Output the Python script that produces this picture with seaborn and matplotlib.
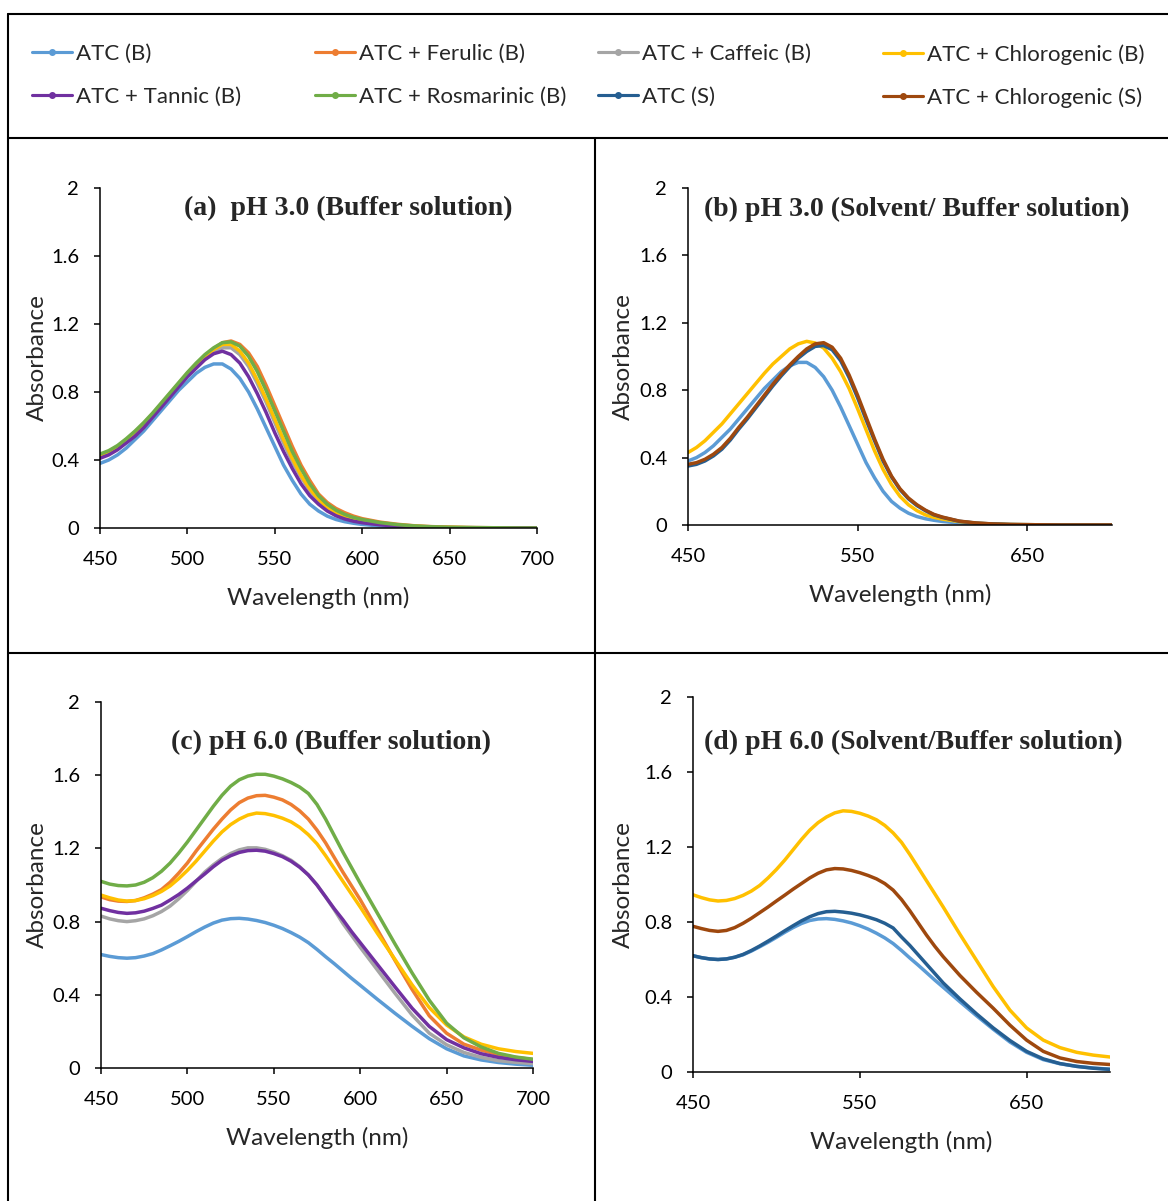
import numpy as np
import pandas as pd
import seaborn as sns
import matplotlib.pyplot as plt
from matplotlib.lines import Line2D

sns.set_theme(style="ticks")
plt.rcParams['font.family'] = ['Lato', 'DejaVu Sans']

# wavelength grid (nm): 5 nm steps to 600, then 10 nm steps
wavelength = [450, 455, 460, 465, 470, 475, 480, 485, 490, 495,
              500, 505, 510, 515, 520, 525, 530, 535, 540, 545,
              550, 555, 560, 565, 570, 575, 580, 585, 590, 595,
              600, 610, 620, 630, 640, 650, 660, 670, 680, 690, 700]

# ---- pH 3.0 buffer (panel a) ----
ph3_atc_b = [0.38, 0.40, 0.43, 0.47, 0.52, 0.57, 0.63, 0.69, 0.75, 0.81,
             0.86, 0.91, 0.945, 0.965, 0.965, 0.935, 0.88, 0.80, 0.70, 0.59,
             0.48, 0.37, 0.28, 0.20, 0.14, 0.10, 0.07, 0.05, 0.037, 0.028,
             0.021, 0.012, 0.007, 0.004, 0.002, 0.001, 0, 0, 0, 0, 0]
ph3_ferulic = [0.425, 0.445, 0.475, 0.515, 0.56, 0.61, 0.665, 0.725, 0.785, 0.845,
               0.905, 0.96, 1.01, 1.055, 1.09, 1.10, 1.08, 1.03, 0.95, 0.84,
               0.72, 0.60, 0.48, 0.37, 0.28, 0.20, 0.15, 0.115, 0.09, 0.07,
               0.055, 0.035, 0.022, 0.013, 0.008, 0.005, 0.003, 0.002, 0.001, 0, 0]
ph3_caffeic = [0.42, 0.44, 0.47, 0.51, 0.555, 0.605, 0.66, 0.72, 0.78, 0.84,
               0.895, 0.95, 0.995, 1.035, 1.06, 1.06, 1.02, 0.95, 0.85, 0.74,
               0.62, 0.50, 0.39, 0.30, 0.22, 0.16, 0.115, 0.085, 0.063, 0.048,
               0.038, 0.024, 0.015, 0.009, 0.005, 0.003, 0.002, 0.001, 0, 0, 0]
ph3_chloro_b = [0.43, 0.45, 0.48, 0.52, 0.565, 0.615, 0.67, 0.73, 0.79, 0.85,
                0.91, 0.965, 1.01, 1.05, 1.08, 1.08, 1.04, 0.97, 0.87, 0.76,
                0.64, 0.52, 0.41, 0.31, 0.23, 0.17, 0.12, 0.09, 0.068, 0.052,
                0.042, 0.027, 0.017, 0.01, 0.006, 0.004, 0.002, 0.001, 0, 0, 0]
ph3_tannic = [0.41, 0.43, 0.46, 0.50, 0.54, 0.59, 0.65, 0.71, 0.77, 0.83,
              0.89, 0.94, 0.99, 1.025, 1.04, 1.02, 0.97, 0.89, 0.79, 0.68,
              0.56, 0.45, 0.35, 0.26, 0.19, 0.14, 0.10, 0.072, 0.053, 0.04,
              0.031, 0.019, 0.011, 0.006, 0.003, 0.002, 0.001, 0, 0, 0, 0]
ph3_rosmarinic = [0.435, 0.455, 0.485, 0.525, 0.57, 0.62, 0.675, 0.735, 0.795, 0.855,
                  0.915, 0.97, 1.02, 1.06, 1.09, 1.095, 1.07, 1.01, 0.92, 0.81,
                  0.69, 0.57, 0.45, 0.35, 0.26, 0.19, 0.14, 0.105, 0.08, 0.062,
                  0.05, 0.032, 0.02, 0.012, 0.007, 0.004, 0.003, 0.002, 0.001, 0, 0]

# ---- pH 3.0 solvent/buffer (panel b) ----
ph3s_chloro_b = [0.43, 0.46, 0.50, 0.55, 0.60, 0.66, 0.72, 0.78, 0.84, 0.90,
                 0.955, 1.00, 1.045, 1.075, 1.09, 1.08, 1.05, 0.99, 0.91, 0.81,
                 0.69, 0.565, 0.44, 0.33, 0.24, 0.17, 0.12, 0.085, 0.06, 0.045,
                 0.035, 0.02, 0.01, 0.006, 0.003, 0.002, 0.001, 0, 0, 0, 0]
ph3s_atc_s = [0.35, 0.36, 0.38, 0.41, 0.45, 0.505, 0.57, 0.63, 0.695, 0.76,
              0.825, 0.885, 0.94, 0.99, 1.03, 1.06, 1.065, 1.04, 0.975, 0.875,
              0.755, 0.625, 0.50, 0.38, 0.285, 0.21, 0.155, 0.115, 0.085, 0.06,
              0.045, 0.022, 0.011, 0.006, 0.003, 0.002, 0.001, 0, 0, 0, 0]
ph3s_chloro_s = [0.36, 0.37, 0.39, 0.42, 0.46, 0.515, 0.58, 0.64, 0.705, 0.77,
                 0.835, 0.895, 0.95, 1.0, 1.045, 1.075, 1.082, 1.055, 0.99, 0.89,
                 0.77, 0.64, 0.51, 0.39, 0.29, 0.215, 0.16, 0.12, 0.088, 0.063,
                 0.047, 0.023, 0.012, 0.006, 0.003, 0.002, 0.001, 0, 0, 0, 0]

# ---- pH 6.0 buffer (panel c) ----
ph6_atc_b = [0.62, 0.61, 0.603, 0.60, 0.603, 0.612, 0.625, 0.645, 0.668, 0.692,
             0.718, 0.745, 0.77, 0.792, 0.808, 0.816, 0.818, 0.814, 0.806, 0.795,
             0.78, 0.762, 0.74, 0.715, 0.685, 0.648, 0.608, 0.57, 0.53, 0.49,
             0.452, 0.375, 0.30, 0.228, 0.16, 0.105, 0.066, 0.044, 0.03, 0.021, 0.015]
ph6_ferulic = [0.935, 0.92, 0.912, 0.91, 0.915, 0.93, 0.95, 0.975, 1.015, 1.065,
               1.12, 1.185, 1.245, 1.305, 1.36, 1.41, 1.45, 1.475, 1.488, 1.49,
               1.48, 1.465, 1.44, 1.405, 1.36, 1.30, 1.23, 1.15, 1.07, 0.995,
               0.92, 0.755, 0.59, 0.43, 0.285, 0.19, 0.13, 0.098, 0.073, 0.058, 0.046]
ph6_caffeic = [0.83, 0.815, 0.805, 0.80, 0.805, 0.815, 0.832, 0.855, 0.885, 0.925,
               0.97, 1.02, 1.07, 1.11, 1.145, 1.172, 1.192, 1.203, 1.203, 1.195,
               1.18, 1.16, 1.135, 1.10, 1.055, 1.0, 0.935, 0.865, 0.79, 0.725,
               0.66, 0.535, 0.41, 0.29, 0.19, 0.127, 0.085, 0.058, 0.04, 0.031, 0.024]
ph6_chloro_b = [0.945, 0.93, 0.918, 0.912, 0.915, 0.925, 0.942, 0.965, 0.995, 1.035,
                1.08, 1.13, 1.185, 1.24, 1.29, 1.33, 1.36, 1.382, 1.393, 1.39,
                1.38, 1.365, 1.345, 1.315, 1.275, 1.225, 1.16, 1.09, 1.02, 0.95,
                0.88, 0.735, 0.595, 0.455, 0.33, 0.235, 0.17, 0.13, 0.105, 0.09, 0.08]
ph6_tannic = [0.873, 0.86, 0.85, 0.845, 0.848, 0.857, 0.872, 0.89, 0.918, 0.948,
              0.983, 1.022, 1.06, 1.10, 1.135, 1.16, 1.178, 1.188, 1.19, 1.185,
              1.172, 1.155, 1.13, 1.097, 1.055, 1.0, 0.935, 0.87, 0.81, 0.745,
              0.685, 0.565, 0.445, 0.327, 0.227, 0.155, 0.11, 0.078, 0.058, 0.045, 0.036]
ph6_rosmarinic = [1.02, 1.005, 0.997, 0.995, 1.0, 1.015, 1.04, 1.075, 1.12, 1.175,
                  1.235, 1.30, 1.365, 1.43, 1.49, 1.54, 1.575, 1.595, 1.605, 1.605,
                  1.595, 1.58, 1.56, 1.535, 1.50, 1.44, 1.36, 1.27, 1.18, 1.095,
                  1.01, 0.845, 0.68, 0.52, 0.37, 0.245, 0.165, 0.115, 0.08, 0.06, 0.048]

# ---- pH 6.0 solvent/buffer (panel d) ----
ph6s_atc_s = [0.62, 0.61, 0.603, 0.60, 0.603, 0.612, 0.627, 0.648, 0.672, 0.698,
              0.725, 0.753, 0.78, 0.806, 0.828, 0.845, 0.855, 0.857, 0.853, 0.847,
              0.838, 0.826, 0.812, 0.793, 0.768, 0.72, 0.675, 0.625, 0.575, 0.525,
              0.475, 0.39, 0.31, 0.235, 0.168, 0.11, 0.07, 0.045, 0.03, 0.02, 0.014]
ph6s_chloro_s = [0.777, 0.765, 0.755, 0.75, 0.755, 0.77, 0.793, 0.82, 0.85, 0.88,
                 0.912, 0.943, 0.975, 1.005, 1.035, 1.06, 1.078, 1.085, 1.083, 1.075,
                 1.063, 1.048, 1.03, 1.005, 0.97, 0.92, 0.86, 0.795, 0.73, 0.67,
                 0.615, 0.515, 0.425, 0.34, 0.25, 0.17, 0.11, 0.075, 0.056, 0.046, 0.04]

series_names = ['ATC (B)', 'ATC + Ferulic (B)', 'ATC + Caffeic (B)', 'ATC + Chlorogenic (B)',
                'ATC + Tannic (B)', 'ATC + Rosmarinic (B)', 'ATC (S)', 'ATC + Chlorogenic (S)']
series_colors = ['#5B9BD5', '#ED7D31', '#A5A5A5', '#FFC000',
                 '#7030A0', '#70AD47', '#255E91', '#9E480E']
palette = dict(zip(series_names, series_colors))

titles = ['(a)  pH 3.0 (Buffer solution)', '(b) pH 3.0 (Solvent/ Buffer solution)',
          '(c) pH 6.0 (Buffer solution)', '(d) pH 6.0 (Solvent/Buffer solution)']
yticks = [0, 0.4, 0.8, 1.2, 1.6, 2]
ytick_labels = ['0', '0.4', '0.8', '1.2', '1.6', '2']
xticks_fine = [450, 500, 550, 600, 650, 700]
xticks_coarse = [450, 550, 650]

panel_data = [
    {'ATC (B)': ph3_atc_b, 'ATC + Ferulic (B)': ph3_ferulic, 'ATC + Caffeic (B)': ph3_caffeic,
     'ATC + Chlorogenic (B)': ph3_chloro_b, 'ATC + Tannic (B)': ph3_tannic,
     'ATC + Rosmarinic (B)': ph3_rosmarinic},
    {'ATC (B)': ph3_atc_b, 'ATC + Chlorogenic (B)': ph3s_chloro_b,
     'ATC (S)': ph3s_atc_s, 'ATC + Chlorogenic (S)': ph3s_chloro_s},
    {'ATC (B)': ph6_atc_b, 'ATC + Ferulic (B)': ph6_ferulic, 'ATC + Caffeic (B)': ph6_caffeic,
     'ATC + Chlorogenic (B)': ph6_chloro_b, 'ATC + Tannic (B)': ph6_tannic,
     'ATC + Rosmarinic (B)': ph6_rosmarinic},
    {'ATC (B)': ph6_atc_b, 'ATC + Chlorogenic (B)': ph6_chloro_b,
     'ATC (S)': ph6s_atc_s, 'ATC + Chlorogenic (S)': ph6s_chloro_s},
]

W, H = 1168, 1201
fig = plt.figure(figsize=(W / 100, H / 100), dpi=100)


def px_box(left, top, right, bottom):
    return [left / W, 1 - bottom / H, (right - left) / W, (bottom - top) / H]


# axes boxes in pixels: left, top(y=2), right(x=700), bottom(y=0)
boxes = [(100, 188, 537, 528), (688, 188, 1112, 525),
         (101, 702, 533, 1068), (693, 697, 1110, 1072)]
title_pos = [(348, 208), (917, 209), (331, 742), (913, 742)]
xtick_sets = [xticks_fine, xticks_coarse, xticks_fine, xticks_coarse]

for i in range(4):
    l, t, r, b = boxes[i]
    ax = fig.add_axes(px_box(l, t, r, b))
    frames = []
    for name, vals in panel_data[i].items():
        frames.append(pd.DataFrame({'Wavelength': wavelength, 'Absorbance': vals, 'Series': name}))
    df = pd.concat(frames, ignore_index=True)
    order = [n for n in series_names if n in panel_data[i]]
    sns.lineplot(data=df, x='Wavelength', y='Absorbance', hue='Series', hue_order=order,
                 palette=palette, linewidth=2.5, errorbar=None, legend=False, ax=ax)
    ax.set_xlim(450, 700)
    ax.set_ylim(0, 2)
    ax.set_xticks(xtick_sets[i])
    ax.set_yticks(yticks)
    ax.set_yticklabels(ytick_labels)
    sns.despine(ax=ax)
    for sp in ['left', 'bottom']:
        ax.spines[sp].set_linewidth(1.1)
        ax.spines[sp].set_color('black')
    ax.tick_params(direction='out', length=4, width=1.1, color='black',
                   labelsize=14.5, labelcolor='black')
    ax.tick_params(axis='x', pad=12.5)
    ax.tick_params(axis='y', pad=11)
    ax.set_xlabel('Wavelength (nm)', fontsize=17.5, va='center')
    ax.set_ylabel('Absorbance', fontsize=17.5, va='center')
    ax.xaxis.set_label_coords(0.5, -70 / (b - t))
    ax.yaxis.set_label_coords((37 - l) / (r - l) if i % 2 == 0 else (623 - l) / (r - l), 0.5)
    cx, cy = title_pos[i]
    fig.text(cx / W, 1 - cy / H, titles[i], ha='center', va='center',
             family='Liberation Serif', fontweight='bold', fontsize=20)

# legend: four columns, two rows, like the Excel legend
handles = {n: Line2D([], [], color=c, lw=2.25, marker='o', markersize=4)
           for n, c in palette.items()}
legend_cols = [['ATC (B)', 'ATC + Tannic (B)'],
               ['ATC + Ferulic (B)', 'ATC + Rosmarinic (B)'],
               ['ATC + Caffeic (B)', 'ATC (S)'],
               ['ATC + Chlorogenic (B)', 'ATC + Chlorogenic (S)']]
col_x = [32, 315, 598, 883]
for names, x in zip(legend_cols, col_x):
    fig.legend([handles[n] for n in names], names, loc='upper left',
               bbox_to_anchor=(x / W, 1 - 44 / H), frameon=False, borderpad=0,
               borderaxespad=0, handlelength=1.8, handletextpad=0.18,
               labelspacing=1.03, fontsize=16)

# panel frame lines (no right or bottom edge, as in the source)
frame_lines = [((8, 1168), (14, 14)), ((8, 1168), (138, 138)), ((8, 1168), (653, 653)),
               ((8, 8), (14, 1201)), ((595, 595), (138, 1201))]
for xs, ys in frame_lines:
    fig.add_artist(Line2D([x / W for x in xs], [1 - y / H for y in ys],
                          transform=fig.transFigure, color='black', lw=1.5))

fig.savefig('out.png', dpi=100)
